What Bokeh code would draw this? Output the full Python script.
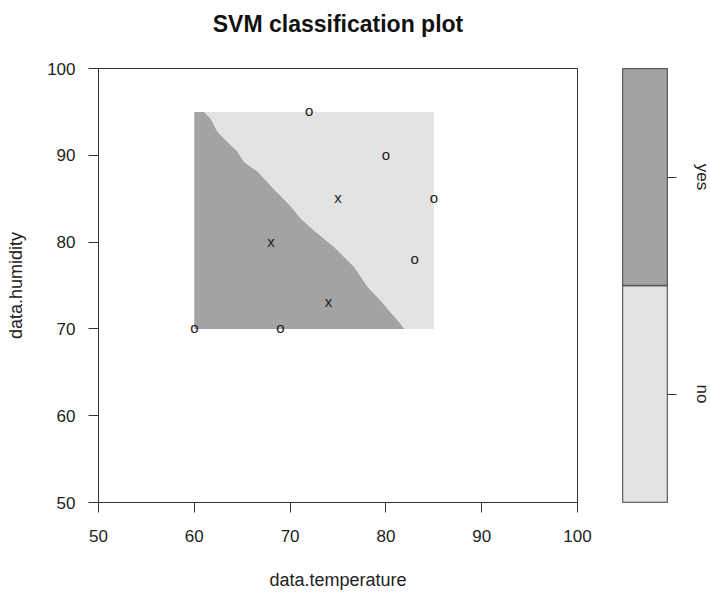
from bokeh.plotting import figure
from bokeh.models import Range1d, FixedTicker, FactorRange, LinearAxis
from bokeh.layouts import row
from bokeh.embed import file_html
from bokeh.resources import INLINE
from bokeh.core.properties import value

# ---- data ----
temperature = [72, 80, 75, 85, 68, 83, 74, 60, 69]
humidity = [95, 90, 85, 85, 80, 78, 73, 70, 70]
symbols = ["o", "o", "x", "o", "x", "o", "x", "o", "o"]

grid_temp = [60, 85]
grid_hum = [70, 95]
boundary_temp = [61.0, 61.7, 62.4, 63.1, 64.5, 65.2, 66.6, 68.3, 70.0, 71.1,
                 72.5, 74.6, 76.7, 78.1, 79.4, 81.5, 81.9]
boundary_hum = [95.0, 94.2, 92.7, 91.9, 90.4, 89.2, 88.1, 86.1, 84.2, 82.7,
                81.3, 79.4, 77.1, 74.8, 73.3, 70.6, 70.0]

x_ticks = [50, 60, 70, 80, 90, 100]
y_ticks = [50, 60, 70, 80, 90, 100]
legend_levels = ["no", "yes"]
legend_colors = ["#e3e3e3", "#a3a3a3"]
title_text = "SVM classification plot"

FONT = "Liberation Sans"
TXT = "#222222"
LINE = "#333333"

# ---- main panel ----
p = figure(
    output_backend="svg", toolbar_location=None,
    x_range=Range1d(50, 100), y_range=Range1d(50, 100),
    frame_width=479, frame_height=434,
    min_border_left=98, min_border_right=23,
    min_border_top=68, min_border_bottom=90,
)

p.xgrid.visible = False
p.ygrid.visible = False
p.outline_line_color = LINE
p.outline_line_width = 1
p.background_fill_color = "white"

for ax, ticks, lab in ((p.xaxis[0], x_ticks, "data.temperature"),
                       (p.yaxis[0], y_ticks, "data.humidity")):
    ax.ticker = FixedTicker(ticks=ticks)
    ax.axis_label = lab
    ax.axis_label_text_font = FONT
    ax.axis_label_text_font_size = "18px"
    ax.axis_label_text_font_style = "normal"
    ax.axis_label_text_color = TXT
    ax.major_label_text_font = FONT
    ax.major_label_text_font_size = "17px"
    ax.major_label_text_color = TXT
    ax.major_tick_out = 10
    ax.major_tick_in = 0
    ax.minor_tick_line_color = None
    ax.axis_line_color = LINE
    ax.major_tick_line_color = LINE
p.xaxis.major_label_standoff = 17
p.xaxis.axis_label_standoff = 25
p.yaxis.major_label_standoff = 13
p.yaxis.axis_label_standoff = 18

# title: carried by a bare axis above the frame (no ticks, no line)
title_axis = LinearAxis(ticker=FixedTicker(ticks=[]), axis_label=title_text,
                        axis_line_color=None, major_tick_line_color=None,
                        minor_tick_line_color=None,
                        major_tick_out=0, major_tick_in=0, major_label_standoff=0,
                        axis_label_standoff=32,
                        axis_label_text_font=FONT, axis_label_text_font_size="23px",
                        axis_label_text_font_style="bold",
                        axis_label_text_color="#111111")
p.add_layout(title_axis, "above")

# decision regions
p.quad(left=[grid_temp[0]], right=[grid_temp[1]], bottom=[grid_hum[0]], top=[grid_hum[1]],
       fill_color=legend_colors[0], line_color=None)
dark_x = [grid_temp[0], grid_temp[0]] + boundary_temp
dark_y = [grid_hum[0], grid_hum[1]] + boundary_hum
p.patch(dark_x, dark_y, fill_color=legend_colors[1], line_color=None)

# points
p.text(x=temperature, y=humidity, text=symbols,
       text_font=value(FONT), text_font_size="15px", text_color=TXT,
       text_align="center", text_baseline="middle", y_offset=-1)

# ---- legend bar ----
q = figure(
    output_backend="svg", toolbar_location=None,
    x_range=Range1d(0, 1), y_range=FactorRange(*legend_levels),
    frame_width=45, frame_height=434,
    min_border_left=22, min_border_right=38,
    min_border_top=68, min_border_bottom=90,
    x_axis_location=None, y_axis_location="right",
)
q.xgrid.visible = False
q.ygrid.visible = False
q.outline_line_color = "#555555"
q.rect(x=[0.5, 0.5], y=legend_levels, width=1, height=1,
       fill_color=legend_colors, line_color="#555555", line_width=1.5)
ya = q.yaxis[0]
ya.axis_line_color = None
ya.major_tick_out = 9
ya.major_tick_in = 0
ya.major_tick_line_color = LINE
ya.major_label_orientation = "vertical"
ya.major_label_text_font = FONT
ya.major_label_text_font_size = "17px"
ya.major_label_text_color = TXT
ya.major_label_standoff = 16

layout = row(p, q, spacing=0)
open("out.html", "w").write(file_html(layout, INLINE))
